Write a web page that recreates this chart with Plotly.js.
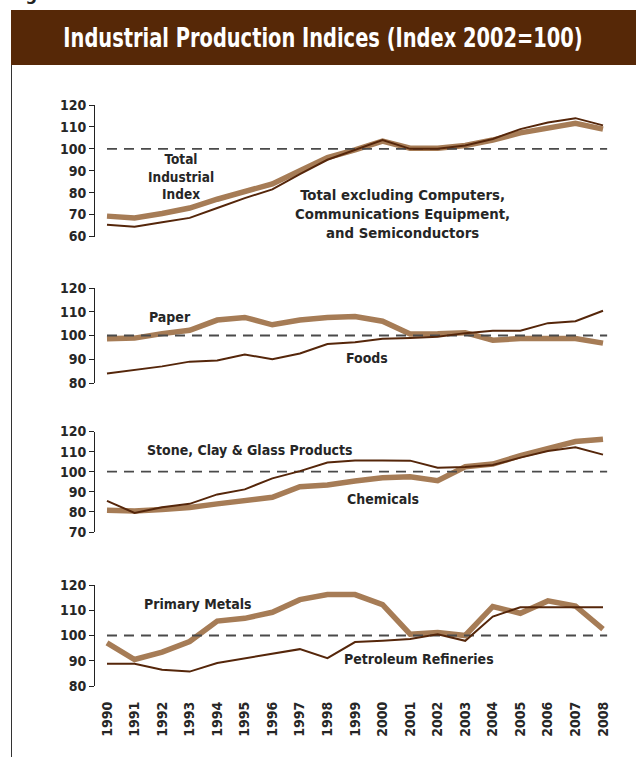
<!DOCTYPE html>
<html><head><meta charset="utf-8">
<script src="https://cdn.plot.ly/plotly-3.0.1.min.js"></script>
<style>
html,body{margin:0;padding:0;background:#fff;overflow:hidden}
#chart{width:636px;height:757px;}
#chart .gtitle{transform-box:fill-box;transform-origin:center;transform:scaleX(0.8);}
</style>
</head><body><div id="chart"></div>
<script>
// ---- data ----
const years = [1990,1991,1992,1993,1994,1995,1996,1997,1998,1999,2000,2001,2002,2003,2004,2005,2006,2007,2008];
const yearLabels = ["1990","1991","1992","1993","1994","1995","1996","1997","1998","1999","2000","2001","2002","2003","2004","2005","2006","2007","2008"];
const totalIndex = [65.4,64.4,66.5,68.5,73,77.5,81.5,88.5,95,99.5,104,100,100,101.5,104.5,109,112,114,110.7];
const totalExcl  = [69.3,68.5,70.5,73,77,80.5,84,90,96,99.5,103.5,100.3,100.3,101.5,104,107.3,109.8,111.7,109];
const paper      = [98.6,98.9,100.8,102.2,106.5,107.6,104.5,106.5,107.6,108,106,100.6,100.7,101.2,98,98.7,98.7,98.7,96.8];
const foods      = [84,85.5,87,89,89.5,92,90,92.4,96.4,97.2,98.6,99,99.5,101,102,102,105.2,106,110.4];
const stone      = [85.5,79.5,82.3,84,88.7,91.2,96.7,100.3,104.6,105.6,105.6,105.5,102,102.3,103.3,107,110.3,112.2,108.5];
const chemicals  = [80.8,80.4,81.2,82.2,84,85.6,87.3,92.5,93.4,95.4,97,97.5,95.5,102.5,103.8,108,111.8,115,116.2];
const primaryMetals = [97.1,90.5,93.4,97.6,105.7,106.8,109.2,114.2,116.2,116.2,112.2,100.5,101.2,100,111.5,108.8,113.7,111.7,102.5];
const petroleum  = [88.8,88.8,86.4,85.7,89.1,91,92.8,94.6,91,97.4,97.9,98.6,100.5,97.9,107.5,111.2,111.2,111.2,111.2];
const baseValue = 100;
const titleText = "Industrial Production Indices (Index 2002=100)";

// ---- styling ----
const W = 636, H = 757, ML = 95, MR = 26, MT = 105, MB = 71;
const plotW = W - ML - MR, plotH = H - MT - MB;
const px = p => (p - ML) / plotW;           // pixel x -> paper x
const py = p => (H - MB - p) / plotH;        // pixel y -> paper y
const THICK = '#A67C56', THIN = '#55260A', BANNER = '#562807', TXT = '#262626';
const FONT = '"Liberation Sans Narrow", "Arial Narrow", "DejaVu Sans Condensed", sans-serif';

const panels = [
  {ax:'y',  thick: totalExcl,     thin: totalIndex, range:[60,120], dom:[py(236.5), py(105)]},
  {ax:'y2', thick: paper,         thin: foods,      range:[80,120], dom:[py(383), py(288)]},
  {ax:'y3', thick: chemicals,     thin: stone,      range:[70,120], dom:[py(532), py(431.5)]},
  {ax:'y4', thick: primaryMetals, thin: petroleum,  range:[80,120], dom:[py(686), py(585)]}
];

const traces = [];
panels.forEach(p => {
  traces.push({x: years, y: p.thick, xaxis:'x', yaxis:p.ax, mode:'lines',
    line:{color:THICK, width:5.5}, hoverinfo:'skip'});
  traces.push({x: [years[0], years[years.length-1] + 0.15], y: [baseValue, baseValue],
    xaxis:'x', yaxis:p.ax, mode:'lines', line:{color:'#4a4a4a', width:1.8, dash:'10px,7px'}, hoverinfo:'skip'});
  traces.push({x: years, y: p.thin, xaxis:'x', yaxis:p.ax, mode:'lines',
    line:{color:THIN, width:2}, hoverinfo:'skip'});
});

const yBase = {
  showline:true, linecolor:'#222', linewidth:1, ticks:'outside', ticklen:5, tickcolor:'#222',
  showgrid:false, zeroline:false, dtick:10, tick0:0, anchor:'x', fixedrange:true,
  tickfont:{family:FONT, size:14, color:TXT, weight:'bold'}
};
const layout = {
  width:W, height:H, margin:{l:ML, r:MR, t:MT, b:MB, pad:0},
  paper_bgcolor:'#fff', plot_bgcolor:'#fff', showlegend:false,
  title:{text:titleText, x:323/W, xanchor:'center', y:1-38/H, yanchor:'middle', yref:'container',
    font:{family:FONT, size:27, color:'#fff', weight:'bold'}},
  xaxis:{range:[1989.565, 2008.254], anchor:'y4', tickvals:years, ticktext:yearLabels, tickangle:-90,
    ticks:'', showline:false, showgrid:false, zeroline:false, ticklabelstandoff:12,
    tickfont:{family:FONT, size:14, color:TXT, weight:'bold'}},
  shapes:[
    {type:'rect', xref:'paper', yref:'paper', x0:px(11), x1:px(640), y0:py(65), y1:py(10),
      fillcolor:BANNER, line:{width:0}, layer:'below'},
    {type:'line', xref:'paper', yref:'paper', x0:px(11.5), x1:px(11.5), y0:py(65), y1:py(760),
      line:{color:'#333', width:1}}
  ],
  annotations:[]
};
panels.forEach((p,i) => {
  const k = i === 0 ? 'yaxis' : 'yaxis' + (i+1);
  layout[k] = Object.assign({}, yBase, {domain:p.dom, range:p.range});
});
const ann = (text, x, y, yref, size) => ({text, x, y, xref:'x', yref, showarrow:false, align:'center',
  xanchor:'center', yanchor:'middle', font:{family:FONT, size:size || 14, color:TXT, weight:'bold'}});
layout.annotations.push(
  ann('Total<br>Industrial<br>Index', 1992.69, 87.2, 'y', 13.5),
  ann('Total excluding Computers,<br>Communications Equipment,<br>and Semiconductors', 2000.72, 70.5, 'y', 14.8),
  ann('Paper', 1992.3, 107.8, 'y2'),
  ann('Foods', 1999.43, 90.5, 'y2'),
  ann('Stone, Clay &amp; Glass Products', 1995.19, 110.8, 'y3'),
  ann('Chemicals', 2000.0, 86.6, 'y3'),
  ann('Primary Metals', 1993.3, 112.5, 'y4'),
  ann('Petroleum Refineries', 2001.32, 90.7, 'y4'),
  {text:'Figure', xref:'paper', yref:'paper', x:px(7), y:py(6), xanchor:'left', yanchor:'bottom',
   showarrow:false, font:{family:FONT, size:18, color:'#222', weight:'bold'}}
);
Plotly.newPlot('chart', traces, layout, {displayModeBar:false, staticPlot:true});
</script></body></html>
